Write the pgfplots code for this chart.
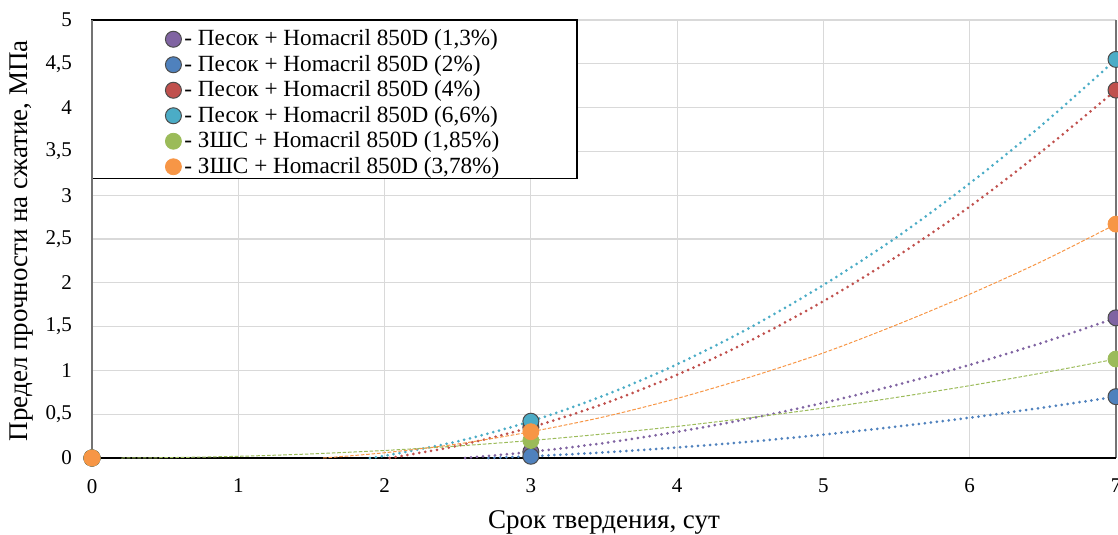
\documentclass[border=0pt]{standalone}
\usepackage{fontspec}
\setmainfont{Liberation Serif}
\usepackage{pgfplots}
\pgfplotsset{compat=1.18}
\definecolor{cPur}{HTML}{8064A2}
\definecolor{cBlu}{HTML}{4F81BD}
\definecolor{cRed}{HTML}{C0504D}
\definecolor{cCya}{HTML}{4BACC6}
\definecolor{cGrn}{HTML}{9BBB59}
\definecolor{cOra}{HTML}{F79646}
\tikzset{
  tdot/.style={line width=1.5pt, line cap=round, dash pattern=on 0pt off 3pt},
  tdash/.style={line width=0.5pt, dash pattern=on 1.8pt off 0.9pt},
}
\begin{document}
\begin{tikzpicture}
\begin{axis}[name=ax, scale only axis, width=512pt, height=219pt,
  xmin=0, xmax=7, ymin=0, ymax=5,
  xtick={0,1,2,3,4,5,6,7},
  ytick={0,0.5,1,1.5,2,2.5,3,3.5,4,4.5,5},
  grid=major, major grid style={draw=black!15, line width=0.6pt},
  axis line style={draw=none}, major tick length=0pt,
  tick label style={font=\fontsize{10.5}{12}\selectfont},
  yticklabel style={xshift=-6.5pt},
  xticklabel style={yshift=-7pt},
  /pgf/number format/assume math mode=true,
  /pgf/number format/use comma,
  clip=false,
  xlabel={Срок твердения, сут},
  ylabel={Предел прочности на сжатие, МПа},
  label style={font=\fontsize{13.5}{15}\selectfont},
  x label style={at={(axis description cs:0.5,-0.148)}, anchor=center},
  y label style={at={(axis description cs:-0.0684,0.496)}, anchor=center},
  legend image code/.code={\draw[#1] plot coordinates {(0pt,0pt)};},
  legend cell align=left,
  legend style={at={(axis description cs:0.0713,0.9815)}, anchor=north west,
    draw=none, fill=none, inner sep=0pt, row sep=2pt,
    font=\fontsize{11.6}{12.75}\selectfont,
    nodes={inner xsep=1.5pt, inner ysep=0.6pt}},
]
% legend frame
\draw[fill=white, draw=black, line width=0.6pt] (rel axis cs:0,1) rectangle (rel axis cs:0.4736,0.639);
% axis lines
\draw[draw=black!55, line width=0.8pt] (rel axis cs:0,0) -- (rel axis cs:0,1);
\draw[draw=black!55, line width=0.8pt] (rel axis cs:1,0) -- (rel axis cs:1,1);
\draw[draw=black, line width=0.8pt] (rel axis cs:0,0) -- (rel axis cs:1,0);

% trend lines
\addplot[cPur, tdot, smooth, forget plot] coordinates {(2.55,0) (3,0.07) (3.5,0.171) (4,0.299) (4.5,0.451) (5,0.63) (5.5,0.834) (6,1.063) (6.5,1.318) (7,1.60)};
\addplot[cBlu, tdot, smooth, forget plot] coordinates {(2.71,0) (3,0.02) (3.5,0.064) (4,0.12) (4.5,0.187) (5,0.267) (5.5,0.358) (6,0.46) (6.5,0.575) (7,0.70)};
\addplot[cRed, tdot, smooth, forget plot] coordinates {(2.035,0) (2.5,0.14) (3,0.35) (3.5,0.62) (4,0.95) (4.5,1.34) (5,1.79) (5.5,2.30) (6,2.87) (6.5,3.51) (7,4.20)};
\addplot[cCya, tdot, smooth, forget plot] coordinates {(1.9,0) (2,0.025) (2.5,0.19) (3,0.42) (3.5,0.713) (4,1.07) (4.5,1.49) (5,1.975) (5.5,2.52) (6,3.135) (6.5,3.81) (7,4.55)};
\addplot[cGrn, tdash, smooth, forget plot] coordinates {(0.2,0) (0.5,0.0037) (1,0.0193) (1.5,0.047) (2,0.086) (2.5,0.137) (3,0.20) (3.5,0.275) (4,0.361) (4.5,0.46) (5,0.57) (5.5,0.692) (6,0.826) (6.5,0.972) (7,1.13)};
\addplot[cOra, tdash, smooth, forget plot] coordinates {(1.58,0) (2,0.06) (2.5,0.16) (3,0.30) (3.5,0.47) (4,0.68) (4.5,0.925) (5,1.20) (5.5,1.52) (6,1.87) (6.5,2.25) (7,2.67)};

% markers
\addplot[only marks, mark=*, mark size=4pt, mark options={fill=cPur, draw=black!70, line width=0.5pt}] coordinates {(0,0) (3,0.07) (7,1.60)};
\addlegendentry{- Песок + Homacril 850D (1,3\%)}
\addplot[only marks, mark=*, mark size=4pt, mark options={fill=cBlu, draw=black!70, line width=0.5pt}] coordinates {(0,0) (3,0.02) (7,0.70)};
\addlegendentry{- Песок + Homacril 850D (2\%)}
\addplot[only marks, mark=*, mark size=4pt, mark options={fill=cRed, draw=black!70, line width=0.5pt}] coordinates {(0,0) (3,0.35) (7,4.20)};
\addlegendentry{- Песок + Homacril 850D (4\%)}
\addplot[only marks, mark=*, mark size=4pt, mark options={fill=cCya, draw=black!70, line width=0.5pt}] coordinates {(0,0) (3,0.42) (7,4.55)};
\addlegendentry{- Песок + Homacril 850D (6,6\%)}
\addplot[only marks, mark=*, mark size=4pt, mark options={fill=cGrn, draw=cGrn}] coordinates {(0,0) (3,0.20) (7,1.13)};
\addlegendentry{- ЗШС + Homacril 850D (1,85\%)}
\addplot[only marks, mark=*, mark size=4pt, mark options={fill=cOra, draw=cOra}] coordinates {(0,0) (3,0.30) (7,2.67)};
\addlegendentry{- ЗШС + Homacril 850D (3,78\%)}
\end{axis}
\pgfresetboundingbox
\path[use as bounding box] ([shift={(-46pt,-38pt)}]ax.south west) rectangle ([shift={(1pt,10pt)}]ax.north east);
\end{tikzpicture}
\end{document}
